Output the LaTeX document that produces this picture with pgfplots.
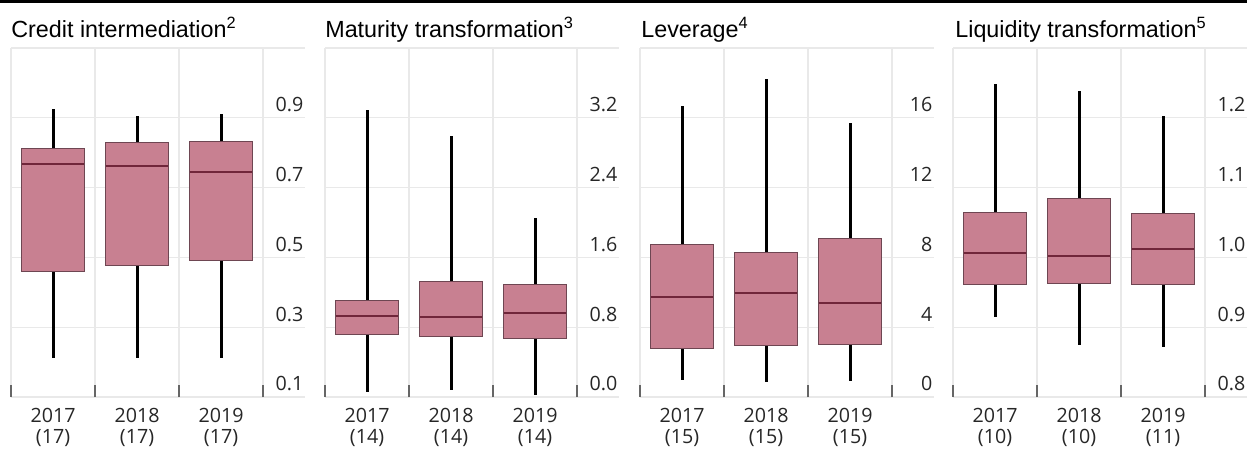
\documentclass[border=0pt]{standalone}
\usepackage{fontspec}
\setmainfont{Liberation Sans}
\newfontfamily\tickfont{Open Sans}
\usepackage{pgfplots}
\pgfplotsset{compat=1.18}
\usepgfplotslibrary{statistics}

\definecolor{boxpink}{RGB}{200,128,145}
\definecolor{boxedge}{RGB}{110,70,82}
\definecolor{medcol}{RGB}{112,38,58}
\definecolor{gridgrey}{RGB}{233,233,233}

\tikzset{paneltitle/.style={anchor=base west, inner sep=0pt, font=\fontsize{14}{16}\selectfont}}

\pgfplotsset{
  panel/.style={
    scale only axis, width=176.4pt, height=209.4pt, anchor=south west,
    xmin=0, xmax=3.5,
    axis line style={draw=none},
    xtick={0.5,1.5,2.5},
    minor xtick={0,1,2,3},
    xminorgrids=true, ymajorgrids=true,
    grid style={draw=gridgrey, line width=0.7pt},
    minor grid style={draw=gridgrey, line width=0.7pt},
    major tick length=0pt, minor tick length=7.2pt,
    tick align=inside,
    xtick pos=lower, ytick pos=upper, yticklabel pos=upper,
    minor tick style={draw=black!60, line width=1pt},
    /pgf/number format/assume math mode=true,
    yticklabel style={anchor=south east, xshift=2.5pt, text=black!85,
      font=\tickfont\fontsize{11.8}{13}\selectfont},
    xticklabel style={align=center, yshift=-3pt, text=black!85,
      font=\tickfont\fontsize{11.8}{13}\selectfont},
    extra y tick style={grid=major},
    extra y tick labels={},
    boxplot/draw direction=y,
    boxplot/box extend=0.74,
    boxplot/whisker extend=0,
    boxplot/every box/.style={draw=boxedge, fill=boxpink, line width=0.6pt},
    boxplot/every whisker/.style={draw=black, line width=1.8pt},
    boxplot/every median/.style={draw=medcol, line width=1.2pt},
  },
}

\begin{document}
\begin{tikzpicture}
\useasboundingbox (0,0) rectangle (748.2pt,268.8pt);
\fill[black] (0,267pt) rectangle (748.2pt,268.8pt);

\node[paneltitle] at (6.6pt,246.6pt) {Credit intermediation\textsuperscript{2}};
\node[paneltitle] at (195pt,246.6pt) {Maturity transformation\textsuperscript{3}};
\node[paneltitle] at (384.6pt,246.6pt) {Leverage\textsuperscript{4}};
\node[paneltitle] at (573pt,246.6pt) {Liquidity transformation\textsuperscript{5}};

% Credit intermediation
\begin{axis}[panel, at={(6.6pt,30.6pt)},
  ymin=0.1, ymax=1.1, ytick={0.1,0.3,0.5,0.7,0.9}, extra y ticks={1.1},
  yticklabel style={/pgf/number format/.cd, fixed, precision=1, zerofill},
  xticklabels={{2017\\(17)},{2018\\(17)},{2019\\(17)}}]
\addplot[boxplot prepared={draw position=0.5, lower whisker=0.211,
  lower quartile=0.459, median=0.769, upper quartile=0.811, upper whisker=0.926}]
  coordinates {};
\addplot[boxplot prepared={draw position=1.5, lower whisker=0.211,
  lower quartile=0.478, median=0.762, upper quartile=0.830, upper whisker=0.905}]
  coordinates {};
\addplot[boxplot prepared={draw position=2.5, lower whisker=0.211,
  lower quartile=0.490, median=0.744, upper quartile=0.832, upper whisker=0.912}]
  coordinates {};
\end{axis}

% Maturity transformation
\begin{axis}[panel, at={(195pt,30.6pt)},
  ymin=0, ymax=4, ytick={0,0.8,1.6,2.4,3.2}, extra y ticks={4},
  yticklabel style={/pgf/number format/.cd, fixed, precision=1, zerofill},
  xticklabels={{2017\\(14)},{2018\\(14)},{2019\\(14)}}]
\addplot[boxplot prepared={draw position=0.5, lower whisker=0.055,
  lower quartile=0.715, median=0.925, upper quartile=1.111, upper whisker=3.285}]
  coordinates {};
\addplot[boxplot prepared={draw position=1.5, lower whisker=0.075,
  lower quartile=0.692, median=0.916, upper quartile=1.327, upper whisker=2.994}]
  coordinates {};
\addplot[boxplot prepared={draw position=2.5, lower whisker=0.023,
  lower quartile=0.668, median=0.967, upper quartile=1.289, upper whisker=2.046}]
  coordinates {};
\end{axis}

% Leverage
\begin{axis}[panel, at={(384pt,30.6pt)},
  ymin=0, ymax=20, ytick={0,4,8,12,16}, extra y ticks={20},
  xticklabels={{2017\\(15)},{2018\\(15)},{2019\\(15)}}]
\addplot[boxplot prepared={draw position=0.5, lower whisker=0.98,
  lower quartile=2.79, median=5.71, upper quartile=8.75, upper whisker=16.67}]
  coordinates {};
\addplot[boxplot prepared={draw position=1.5, lower whisker=0.88,
  lower quartile=2.93, median=5.96, upper quartile=8.27, upper whisker=18.21}]
  coordinates {};
\addplot[boxplot prepared={draw position=2.5, lower whisker=0.94,
  lower quartile=3.00, median=5.37, upper quartile=9.06, upper whisker=15.71}]
  coordinates {};
\end{axis}

% Liquidity transformation
\begin{axis}[panel, at={(571.8pt,30.6pt)},
  ymin=0.8, ymax=1.3, ytick={0.8,0.9,1.0,1.1,1.2}, extra y ticks={1.3},
  yticklabel style={/pgf/number format/.cd, fixed, precision=1, zerofill},
  xticklabels={{2017\\(10)},{2018\\(10)},{2019\\(11)}}]
\addplot[boxplot prepared={draw position=0.5, lower whisker=0.915,
  lower quartile=0.961, median=1.006, upper quartile=1.064, upper whisker=1.248}]
  coordinates {};
\addplot[boxplot prepared={draw position=1.5, lower whisker=0.874,
  lower quartile=0.962, median=1.002, upper quartile=1.084, upper whisker=1.238}]
  coordinates {};
\addplot[boxplot prepared={draw position=2.5, lower whisker=0.871,
  lower quartile=0.961, median=1.012, upper quartile=1.063, upper whisker=1.202}]
  coordinates {};
\end{axis}
\end{tikzpicture}
\end{document}
